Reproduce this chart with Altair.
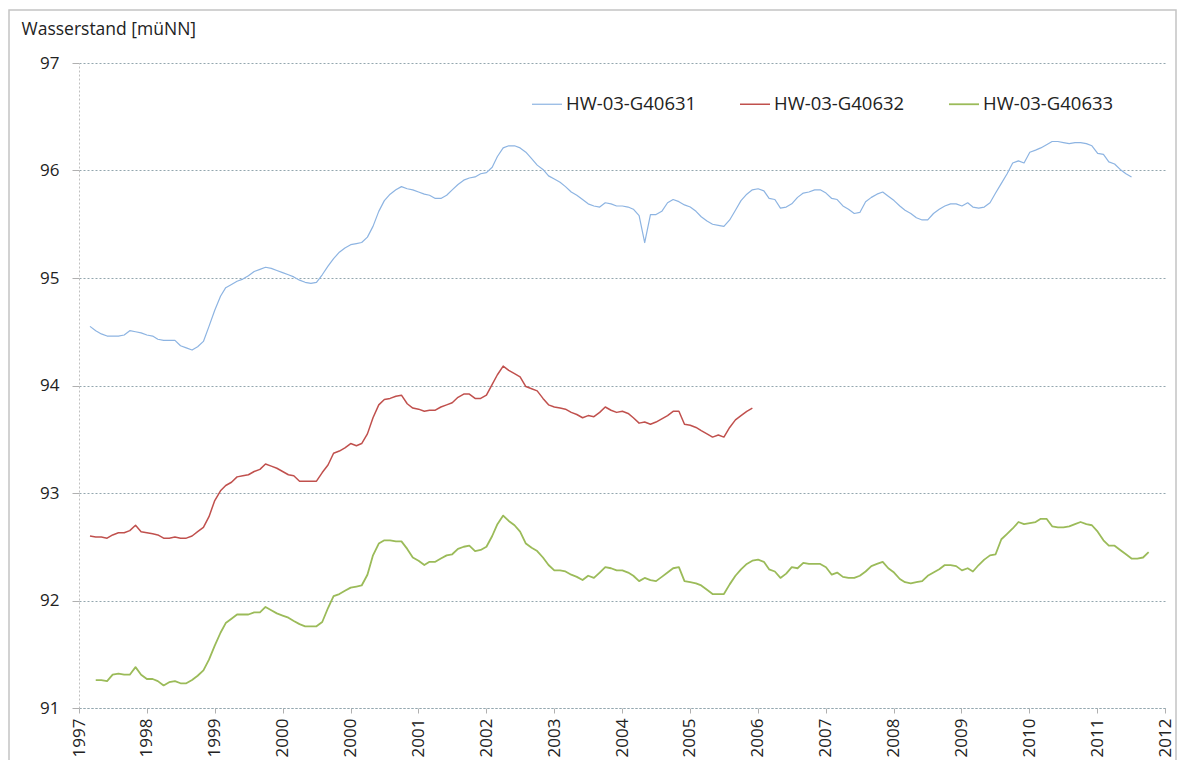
import json
import altair as alt
import pandas as pd

SERIES = ["HW-03-G40631", "HW-03-G40632", "HW-03-G40633"]
COLORS = ["#8DB4E2", "#C0504D", "#9BBB59"]
WIDTHS = [1.2, 1.8, 1.25]
START = ["1997-03-01", "1997-03-01", "1997-04-01"]

blue = [94.55, 94.51, 94.48, 94.46, 94.46, 94.46, 94.47, 94.51, 94.50, 94.49,
        94.47, 94.46, 94.43, 94.42, 94.42, 94.42, 94.37, 94.35, 94.33, 94.36,
        94.41, 94.55, 94.70, 94.83, 94.91, 94.94, 94.97, 94.99, 95.02, 95.06,
        95.08, 95.10, 95.09, 95.07, 95.05, 95.03, 95.01, 94.98, 94.96, 94.95,
        94.96, 95.03, 95.11, 95.18, 95.24, 95.28, 95.31, 95.32, 95.33, 95.38,
        95.48, 95.62, 95.72, 95.78, 95.82, 95.85, 95.83, 95.82, 95.80, 95.78,
        95.77, 95.74,
        95.74, 95.77, 95.82, 95.87, 95.91, 95.93, 95.94, 95.97, 95.98, 96.03,
        96.13, 96.21, 96.23, 96.23, 96.21, 96.17, 96.11, 96.05, 96.01, 95.95,
        95.92, 95.89, 95.85, 95.80, 95.77, 95.73, 95.69, 95.67, 95.66, 95.70,
        95.69, 95.67,
        95.67, 95.66, 95.64, 95.58, 95.33, 95.59, 95.59, 95.62, 95.70, 95.73,
        95.71, 95.68, 95.66, 95.62, 95.57, 95.53, 95.50, 95.49, 95.48, 95.54,
        95.63, 95.72, 95.78, 95.82, 95.83, 95.81, 95.74, 95.73, 95.65, 95.66,
        95.69, 95.75,
        95.79, 95.80, 95.82, 95.82, 95.79, 95.74, 95.73, 95.67, 95.64, 95.60,
        95.61, 95.71, 95.75, 95.78, 95.80, 95.76, 95.72, 95.67, 95.63, 95.60,
        95.56, 95.54, 95.54, 95.60, 95.64, 95.67, 95.69, 95.69, 95.67, 95.70,
        95.66, 95.65,
        95.66, 95.70, 95.79, 95.88, 95.97, 96.07, 96.09, 96.07, 96.17, 96.19,
        96.21, 96.24, 96.27, 96.27, 96.26, 96.25, 96.26, 96.26, 96.25, 96.23,
        96.16, 96.15, 96.08, 96.06, 96.01, 95.97, 95.94]

red = [92.60, 92.59, 92.59, 92.58, 92.61, 92.63, 92.63, 92.65, 92.70, 92.64,
       92.63, 92.62, 92.61, 92.58, 92.58, 92.59, 92.58, 92.58, 92.60, 92.64,
       92.68, 92.78, 92.93, 93.02, 93.07, 93.10, 93.15, 93.16, 93.17, 93.20,
       93.22, 93.27, 93.25, 93.23, 93.20, 93.17, 93.16, 93.11, 93.11, 93.11,
       93.11, 93.19, 93.26, 93.37, 93.39, 93.42, 93.46, 93.44, 93.46, 93.55,
       93.70, 93.82, 93.87, 93.88, 93.90, 93.91, 93.83, 93.79, 93.78, 93.76,
       93.77, 93.77,
       93.80, 93.82, 93.84, 93.89, 93.92, 93.92, 93.88, 93.88, 93.91, 94.01,
       94.10, 94.18, 94.14, 94.11, 94.08, 93.99, 93.97, 93.95, 93.88, 93.82,
       93.80, 93.79, 93.78, 93.75, 93.73, 93.70, 93.72, 93.71, 93.75, 93.80,
       93.77, 93.75,
       93.76, 93.74, 93.70, 93.65, 93.66, 93.64, 93.66, 93.69, 93.72, 93.76,
       93.76, 93.64, 93.63, 93.61, 93.58, 93.55, 93.52, 93.54, 93.52, 93.61,
       93.68, 93.72, 93.76, 93.79]

green = [91.26, 91.26, 91.25, 91.31, 91.32, 91.31, 91.31, 91.38, 91.31, 91.27,
         91.27, 91.25, 91.21, 91.24, 91.25, 91.23, 91.23, 91.26, 91.30, 91.35,
         91.45, 91.58, 91.70, 91.79, 91.83, 91.87, 91.87, 91.87, 91.89, 91.89,
         91.94, 91.91, 91.88, 91.86, 91.84, 91.81, 91.78, 91.76, 91.76, 91.76,
         91.80, 91.93, 92.04, 92.06, 92.09, 92.12, 92.13, 92.14, 92.24, 92.42,
         92.53, 92.56, 92.56, 92.55, 92.55,
         92.48, 92.40, 92.37, 92.33, 92.36, 92.36, 92.39, 92.42, 92.43, 92.48,
         92.50, 92.51, 92.46, 92.47, 92.50, 92.60, 92.71, 92.79, 92.74, 92.70,
         92.64, 92.53, 92.49, 92.46, 92.40, 92.33, 92.28, 92.28, 92.27, 92.24,
         92.22, 92.19, 92.23, 92.21, 92.26, 92.31, 92.30, 92.28,
         92.28, 92.26, 92.23, 92.18, 92.21, 92.19, 92.18, 92.22, 92.26, 92.30,
         92.31, 92.18, 92.17, 92.16, 92.14, 92.10, 92.06, 92.06, 92.06, 92.15,
         92.23, 92.29, 92.34, 92.37, 92.38, 92.36, 92.29, 92.27, 92.21, 92.25,
         92.31, 92.30,
         92.35, 92.34, 92.34, 92.34, 92.31, 92.24, 92.26, 92.22, 92.21, 92.21,
         92.23, 92.27, 92.32, 92.34, 92.36, 92.30, 92.26, 92.20, 92.17, 92.16,
         92.17, 92.18, 92.23, 92.26, 92.29, 92.33, 92.33, 92.32, 92.28, 92.30,
         92.27, 92.33,
         92.38, 92.42, 92.43, 92.57, 92.62, 92.67, 92.73, 92.71, 92.72, 92.73,
         92.76, 92.76, 92.69, 92.68, 92.68, 92.69, 92.71, 92.73, 92.71, 92.70,
         92.64, 92.56, 92.51, 92.51, 92.47, 92.43, 92.39, 92.39, 92.40, 92.45]

TICK_LABELS = ["1997", "1998", "1999", "2000", "2000", "2001", "2002", "2003",
               "2004", "2005", "2006", "2007", "2008", "2009", "2010", "2011",
               "2012"]
Y_TICKS = [91, 92, 93, 94, 95, 96, 97]

origin = pd.Timestamp("1997-01-01")
rows = []
for name, start, vals in zip(SERIES, START, [blue, red, green]):
    dates = pd.date_range(start, periods=len(vals), freq="MS")
    for d, v in zip(dates, vals):
        rows.append({"series": name, "day": (d - origin).days, "value": v})
df = pd.DataFrame(rows)

tick_vals = [365 * k for k in range(len(TICK_LABELS))]
label_expr = json.dumps(TICK_LABELS) + "[round(datum.value / 365)]"

FONT = "Open Sans"
GRID = "#93a6ae"
TXT = "#222222"

lines = alt.Chart(df).mark_line(strokeJoin="round").encode(
    x=alt.X("day:Q",
            scale=alt.Scale(domain=[0, tick_vals[-1]], nice=False, zero=False),
            axis=alt.Axis(values=tick_vals, labelExpr=label_expr, labelAngle=270,
                          title=None, grid=False, labelFontSize=17, labelFont=FONT,
                          labelColor=TXT, labelPadding=5, tickSize=5,
                          tickColor="#b0b0b0", domainColor=GRID, domainDash=[2, 2],
                          labelOverlap=False)),
    y=alt.Y("value:Q",
            scale=alt.Scale(domain=[91, 97], nice=False, zero=False),
            axis=alt.Axis(values=Y_TICKS, title="Wasserstand [müNN]", titleAngle=0,
                          titleAlign="left", titleBaseline="middle", titleX=-58,
                          titleY=-34, titleFontSize=17.5, titleFont=FONT,
                          titleFontWeight="normal", titleColor=TXT,
                          labelFontSize=17, labelFont=FONT, labelColor=TXT,
                          labelPadding=13, tickSize=7, tickColor="#b0b0b0",
                          domainColor="#c0c0c0", domainDash=[2, 2],
                          gridColor=GRID, gridDash=[2, 2], gridWidth=1)),
    color=alt.Color("series:N",
                    scale=alt.Scale(domain=SERIES, range=COLORS),
                    legend=alt.Legend(title=None, orient="none", direction="horizontal",
                                      legendX=452, legendY=25, symbolType="stroke",
                                      symbolSize=900, symbolStrokeWidth=2,
                                      labelFontSize=18.5, labelFont=FONT,
                                      labelColor=TXT, columnPadding=40,
                                      labelOffset=3)),
    strokeWidth=alt.StrokeWidth("series:N",
                                scale=alt.Scale(domain=SERIES, range=WIDTHS),
                                legend=None),
)

# thin grey chart-area frame, as in the spreadsheet export
frame = alt.Chart(pd.DataFrame({"f": [0]})).mark_rect(
    fill="transparent", stroke="#c4c4c4", strokeWidth=1.5
).encode(
    x=alt.value(-70), x2=alt.value(1097),
    y=alt.value(-53), y2=alt.value(740),
)

chart = alt.layer(frame, lines).properties(
    width=1086, height=645,
    autosize=alt.AutoSizeParams(type="none"),
    padding={"left": 71, "top": 55, "right": 12, "bottom": 52},
).configure_view(strokeWidth=0)

chart.save("out.html", embed_options={"renderer": "svg", "actions": False})
